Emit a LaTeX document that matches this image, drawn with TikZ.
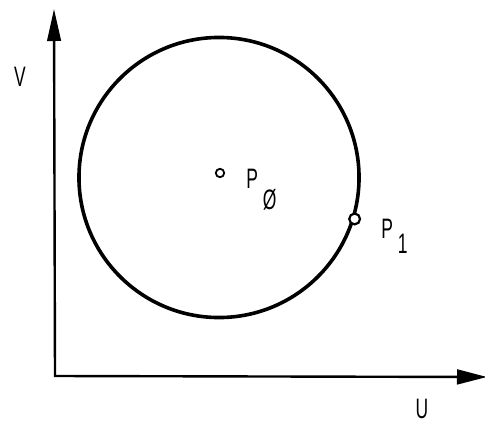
\documentclass[tikz,border=0pt]{standalone}
\usepackage{fontspec}
\setmainfont{Liberation Sans}
\usepackage{graphicx}
\usetikzlibrary{arrows.meta}
\newcommand{\narrowtxt}[1]{\scalebox{0.62}[1]{#1}}

\begin{document}
\begin{tikzpicture}[x=0.025cm,y=-0.025cm,
    axisline/.style={line width=0.06cm,
      {Triangle[length=0.8cm,width=0.34cm]}-{Triangle[length=0.75cm,width=0.37cm]}},
    lbl/.style={font=\fontsize{20}{24}\selectfont,inner sep=0pt},
    pdot/.style={circle,draw,fill=white,inner sep=0pt}]
  \useasboundingbox (0,0) rectangle (485,426);
  % Axis
  \coordinate (O) at (55,376);
  \coordinate (vtop) at (54,9);
  \coordinate (uend) at (487,377);
  \draw[axisline] (vtop) -- (O) -- (uend);
  \node[lbl] (vlab) at (20,77) {\narrowtxt{V}};
  \node[lbl] (ulab) at (422,409) {\narrowtxt{U}};
  % Circle
  \node[circle,draw,line width=0.09cm,minimum size=7cm,inner sep=0pt] (circ) at (219,177.5) {};
  % Points
  \node[pdot,minimum size=0.21cm,line width=0.045cm] (p0) at (220,173) {};
  \node[pdot,minimum size=0.27cm,line width=0.055cm] (p1) at (circ.-17) {};
  \node[lbl,anchor=base west] (lp0) at (246,188) {\narrowtxt{P\kern0.2cm\raisebox{-0.53cm}{Ø}}};
  \node[lbl,anchor=base west] (lp1) at (381,238) {\narrowtxt{P\kern0.2cm\raisebox{-0.38cm}{1}}};
\end{tikzpicture}
\end{document}
